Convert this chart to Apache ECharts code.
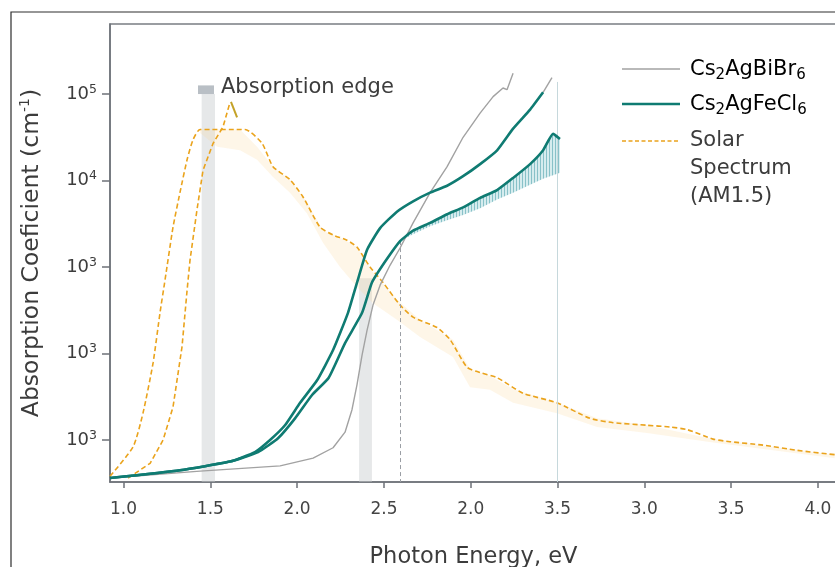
<!DOCTYPE html>
<html>
<head>
<meta charset="utf-8">
<title>Absorption coefficient vs photon energy</title>
<script src="https://cdn.jsdelivr.net/npm/echarts@6/dist/echarts.min.js"></script>
<style>
  html, body { margin: 0; padding: 0; background: #ffffff; }
  #chart { width: 835px; height: 567px; }
</style>
</head>
<body>
<div id="chart"></div>
<script>
// Axis ticks: positions on the energy axis and the labels printed under them
const xTickPos = [1.0, 1.5, 2.0, 2.5, 3.0, 3.5, 4.0, 4.5, 5.0];
const xTickLabels = ['1.0', '1.5', '2.0', '2.5', '2.0', '3.5', '3.0', '3.5', '4.0'];
// Vertical axis in decades (log10 of absorption coefficient) and printed exponents
const yTickPos = [1, 2, 3, 4, 5];
const yTickExp = ['3', '3', '3', '4', '5'];

// Cs2AgBiBr6 absorption (x: photon energy position, y: log10 alpha)
const biBrX = [0.922, 1.441, 1.902, 2.092, 2.207, 2.276, 2.316, 2.345, 2.374, 2.403, 2.437, 2.478, 2.535, 2.593, 2.668, 2.766, 2.864, 2.956, 3.054, 3.129, 3.186, 3.209, 3.244];
const biBrY = [0.56, 0.64, 0.70, 0.79, 0.91, 1.09, 1.35, 1.64, 1.98, 2.27, 2.56, 2.79, 3.02, 3.22, 3.51, 3.86, 4.16, 4.50, 4.78, 4.97, 5.07, 5.05, 5.24];
const biBrTailX = [3.417, 3.468];
const biBrTailY = [5.02, 5.19];

// Cs2AgFeCl6 absorption, upper and lower curves
const feClUpperX = [0.922, 1.325, 1.613, 1.757, 1.844, 1.930, 2.017, 2.115, 2.207, 2.293, 2.345, 2.403, 2.478, 2.575, 2.668, 2.766, 2.864, 2.956, 3.054, 3.152, 3.244, 3.342, 3.417];
const feClUpperY = [0.56, 0.65, 0.75, 0.86, 1.00, 1.17, 1.43, 1.69, 2.04, 2.47, 2.82, 3.20, 3.45, 3.64, 3.76, 3.86, 3.94, 4.05, 4.19, 4.35, 4.60, 4.82, 5.02];
const feClLowerX = [0.922, 1.325, 1.613, 1.775, 1.890, 1.988, 2.086, 2.182, 2.276, 2.374, 2.431, 2.506, 2.593, 2.668, 2.766, 2.864, 2.956, 3.054, 3.152, 3.244, 3.342, 3.417, 3.474, 3.514];
const feClLowerY = [0.56, 0.65, 0.75, 0.86, 1.02, 1.25, 1.52, 1.72, 2.12, 2.47, 2.82, 3.06, 3.30, 3.42, 3.51, 3.61, 3.69, 3.80, 3.89, 4.03, 4.19, 4.35, 4.54, 4.48];
// Spread band under the lower Cs2AgFeCl6 curve
const hatchX = [2.593, 2.668, 2.766, 2.864, 2.956, 3.054, 3.152, 3.244, 3.342, 3.417, 3.474, 3.514];
const hatchTop = [3.30, 3.42, 3.51, 3.61, 3.69, 3.80, 3.89, 4.03, 4.19, 4.35, 4.54, 4.48];
const hatchBottom = [3.30, 3.38, 3.47, 3.54, 3.60, 3.68, 3.78, 3.86, 3.95, 4.02, 4.06, 4.09];

// Solar spectrum (AM1.5), two dashed traces
const solarX = [0.922, 1.055, 1.112, 1.170, 1.210, 1.239, 1.285, 1.325, 1.366, 1.400, 1.441, 1.700, 1.798, 1.861, 1.959, 2.034, 2.132, 2.207, 2.287, 2.345, 2.420, 2.495, 2.593, 2.668, 2.806, 2.881, 2.979, 3.054, 3.152, 3.302, 3.497, 3.687, 3.820, 4.016, 4.148, 4.246, 4.396, 4.494, 4.684, 4.880, 5.097];
const solarY = [0.58, 0.92, 1.31, 1.89, 2.47, 2.85, 3.46, 3.86, 4.24, 4.47, 4.59, 4.59, 4.43, 4.16, 4.01, 3.81, 3.46, 3.37, 3.31, 3.23, 3.00, 2.82, 2.56, 2.42, 2.30, 2.16, 1.84, 1.78, 1.72, 1.54, 1.43, 1.25, 1.20, 1.17, 1.15, 1.12, 1.01, 0.98, 0.94, 0.88, 0.83];
const solar2X = [1.026, 1.153, 1.228, 1.285, 1.337, 1.366, 1.383, 1.423, 1.458, 1.516, 1.573, 1.613];
const solar2Y = [0.56, 0.73, 1.00, 1.38, 2.08, 2.73, 3.08, 3.66, 4.12, 4.43, 4.62, 4.90];
// Spread band under the solar spectrum
const peachX = [1.441, 1.539, 1.671, 1.769, 1.861, 1.959, 2.057, 2.149, 2.247, 2.345, 2.437, 2.575, 2.708, 2.898, 2.996, 3.111, 3.244, 3.497, 3.728, 4.016, 4.396, 5.097];
const peachTop = [4.59, 4.59, 4.59, 4.39, 4.16, 4.01, 3.75, 3.42, 3.34, 3.23, 2.94, 2.62, 2.39, 2.16, 1.82, 1.74, 1.59, 1.43, 1.25, 1.17, 1.01, 0.83];
const peachBottom = [4.55, 4.39, 4.35, 4.24, 4.04, 3.86, 3.62, 3.28, 3.00, 2.77, 2.58, 2.39, 2.19, 1.96, 1.61, 1.58, 1.43, 1.31, 1.15, 1.08, 0.97, 0.79];

// Absorption-edge bands [xStart, xEnd, yTop]
const edgeBands = [[1.450, 1.527, 5.00], [2.357, 2.431, 2.87]];
const edgeCap = [1.429, 1.521, 5.10, 5.00];

const FONT = "'DejaVu Sans', Verdana, sans-serif";
const TEXT = '#3c3c3c';
const TEAL = '#0f7b72';
const GREY = '#a2a2a2';
const ORANGE = '#eaa31c';
const Y_MIN = 0.514, Y_MAX = 5.81, X_MIN = 0.922, X_MAX = 5.11;

function pairs(xs, ys) { return xs.map((x, i) => [x, ys[i]]); }

function hatchImage() {
  const c = document.createElement('canvas');
  c.width = 3; c.height = 4;
  const g = c.getContext('2d');
  g.fillStyle = 'rgba(180,220,224,0.55)';
  g.fillRect(0, 0, 3, 4);
  g.fillStyle = 'rgba(95,170,180,0.65)';
  g.fillRect(0, 0, 1, 4);
  return c;
}

function bandSeries(name, xs, top, bottom, fill, z) {
  return {
    type: 'custom', name: name, z: z, silent: true,
    data: [[xs[0], top[0]]],
    renderItem: function (params, api) {
      const pts = [];
      for (let i = 0; i < xs.length; i++) pts.push(api.coord([xs[i], top[i]]));
      for (let i = xs.length - 1; i >= 0; i--) pts.push(api.coord([xs[i], bottom[i]]));
      return { type: 'polygon', shape: { points: pts }, style: { fill: fill } };
    }
  };
}

const chart = echarts.init(document.getElementById('chart'), null, { renderer: 'canvas' });

const supRich = {
  b: { fontSize: 18, lineHeight: 22, color: TEXT, fontFamily: FONT },
  s: { fontSize: 12.5, lineHeight: 13, verticalAlign: 'top', color: TEXT, fontFamily: FONT }
};
const legendRich = {
  a: { fontSize: 21, lineHeight: 26, color: TEXT, fontFamily: FONT },
  u: { fontSize: 15, lineHeight: 14, verticalAlign: 'bottom', color: TEXT, fontFamily: FONT }
};

const option = {
  animation: false,
  backgroundColor: '#ffffff',
  grid: {
    left: 110, right: -2, top: 24, bottom: 85,
    containLabel: false, outerBoundsMode: 'none',
    show: true, borderColor: '#7a7e83', borderWidth: 1.5, backgroundColor: 'transparent'
  },
  xAxis: {
    type: 'value', min: X_MIN, max: X_MAX,
    name: 'Photon Energy, eV', nameLocation: 'middle', nameGap: 64,
    nameTextStyle: { fontSize: 22.5, color: TEXT, fontFamily: FONT },
    axisLine: { lineStyle: { color: '#6d7278', width: 1.5 } },
    axisTick: { customValues: xTickPos, length: 6, lineStyle: { color: '#6d7278', width: 1.5 } },
    axisLabel: {
      customValues: xTickPos, margin: 19, fontSize: 17, color: '#444', fontFamily: FONT,
      formatter: function (v) {
        const i = xTickPos.findIndex(p => Math.abs(p - v) < 1e-6);
        return i >= 0 ? xTickLabels[i] : '';
      }
    },
    splitLine: { show: false }
  },
  yAxis: {
    type: 'value', min: Y_MIN, max: Y_MAX,
    name: '{a|Absorption Coeficient (cm}{s|-1}{a|)}', nameLocation: 'middle', nameGap: 64, nameRotate: 90,
    nameTextStyle: {
      rich: {
        a: { fontSize: 23.5, lineHeight: 28, color: TEXT, fontFamily: FONT },
        s: { fontSize: 14, lineHeight: 15, verticalAlign: 'top', color: TEXT, fontFamily: FONT }
      }
    },
    axisLine: { lineStyle: { color: '#6d7278', width: 1.5 } },
    axisTick: { customValues: yTickPos, length: 8, lineStyle: { color: '#6d7278', width: 1.5 } },
    axisLabel: {
      customValues: yTickPos, margin: 13, rich: supRich,
      formatter: function (v) {
        const i = yTickPos.findIndex(p => Math.abs(p - v) < 1e-6);
        return i >= 0 ? '{b|10}{s|' + yTickExp[i] + '}' : '';
      }
    },
    splitLine: { show: false }
  },
  graphic: [
    { type: 'rect', shape: { x: 11, y: 12, width: 900, height: 700 }, style: { fill: 'none', stroke: '#2e2e2e', lineWidth: 1.2 }, z: 100 },
    { type: 'text', x: 221, y: 88, style: { text: 'Absorption edge', fontSize: 21, fill: TEXT, fontFamily: FONT, verticalAlign: 'middle' }, z: 100 },
    // legend
    { type: 'line', shape: { x1: 622, y1: 69, x2: 680, y2: 69 }, style: { stroke: GREY, lineWidth: 1.5 }, z: 100 },
    { type: 'text', x: 690, y: 57, style: { text: '{a|Cs}{u|2}{a|AgBiBr}{u|6}', rich: legendRich }, z: 100 },
    { type: 'line', shape: { x1: 622, y1: 104, x2: 680, y2: 104 }, style: { stroke: TEAL, lineWidth: 2.5 }, z: 100 },
    { type: 'text', x: 690, y: 92, style: { text: '{a|Cs}{u|2}{a|AgFeCl}{u|6}', rich: legendRich }, z: 100 },
    { type: 'line', shape: { x1: 622, y1: 141, x2: 680, y2: 141 }, style: { stroke: ORANGE, lineWidth: 1.5, lineDash: [4, 2.5] }, z: 100 },
    { type: 'text', x: 690, y: 127, style: { text: 'Solar\nSpectrum\n(AM1.5)', fontSize: 21, lineHeight: 28, fill: TEXT, fontFamily: FONT }, z: 100 }
  ],
  series: [
    bandSeries('solarSpread', peachX, peachTop, peachBottom, 'rgba(250,212,150,0.22)', 1),
    {
      type: 'line', name: 'markers', z: 1, silent: true, symbol: 'none',
      data: [[X_MIN, Y_MIN]], lineStyle: { opacity: 0 },
      markArea: {
        silent: true,
        data: [
          [{ coord: [edgeBands[0][0], edgeBands[0][2]], itemStyle: { color: 'rgba(200,203,207,0.45)' } }, { coord: [edgeBands[0][1], Y_MIN] }],
          [{ coord: [edgeBands[1][0], edgeBands[1][2]], itemStyle: { color: 'rgba(200,203,207,0.45)' } }, { coord: [edgeBands[1][1], Y_MIN] }],
          [{ coord: [edgeCap[0], edgeCap[2]], itemStyle: { color: '#b9bfc5' } }, { coord: [edgeCap[1], edgeCap[3]] }]
        ]
      },
      markLine: {
        silent: true, symbol: ['none', 'none'], label: { show: false },
        data: [
          [{ coord: [3.5, 5.14], lineStyle: { color: '#c6d8dc', width: 1, type: 'solid' } }, { coord: [3.5, Y_MIN] }],
          [{ coord: [2.593, 3.30], lineStyle: { color: '#9a9ea4', width: 1, type: [4, 3] } }, { coord: [2.593, Y_MIN] }],
          [{ coord: [1.619, 4.91], lineStyle: { color: '#c4a228', width: 2, type: 'solid' } }, { coord: [1.654, 4.73] }]
        ]
      }
    },
    {
      type: 'custom', name: 'feClSpread', z: 2, silent: true,
      data: [[hatchX[0], hatchTop[0]]],
      renderItem: function (params, api) {
        const pts = [];
        for (let i = 0; i < hatchX.length; i++) pts.push(api.coord([hatchX[i], hatchTop[i]]));
        for (let i = hatchX.length - 1; i >= 0; i--) pts.push(api.coord([hatchX[i], hatchBottom[i]]));
        return { type: 'polygon', shape: { points: pts }, style: { fill: { image: hatchImage(), repeat: 'repeat' } } };
      }
    },
    {
      type: 'line', name: 'Solar Spectrum (AM1.5)', z: 3, symbol: 'none', smooth: 0.2,
      data: pairs(solarX, solarY), lineStyle: { color: ORANGE, width: 1.6, type: [5, 3] }
    },
    {
      type: 'line', name: 'Solar Spectrum (AM1.5) b', z: 3, symbol: 'none', smooth: false,
      data: pairs(solar2X, solar2Y), lineStyle: { color: ORANGE, width: 1.6, type: [5, 3] }
    },
    {
      type: 'line', name: 'Cs2AgBiBr6', z: 4, symbol: 'none',
      data: pairs(biBrX, biBrY), lineStyle: { color: GREY, width: 1.4 }
    },
    {
      type: 'line', name: 'Cs2AgBiBr6 tail', z: 4, symbol: 'none',
      data: pairs(biBrTailX, biBrTailY), lineStyle: { color: GREY, width: 1.4 }
    },
    {
      type: 'line', name: 'Cs2AgFeCl6', z: 5, symbol: 'none', smooth: 0.15,
      data: pairs(feClUpperX, feClUpperY), lineStyle: { color: TEAL, width: 2.6 }
    },
    {
      type: 'line', name: 'Cs2AgFeCl6 b', z: 5, symbol: 'none', smooth: 0.15,
      data: pairs(feClLowerX, feClLowerY), lineStyle: { color: TEAL, width: 2.6 }
    }
  ]
};

chart.setOption(option);
</script>
</body>
</html>
